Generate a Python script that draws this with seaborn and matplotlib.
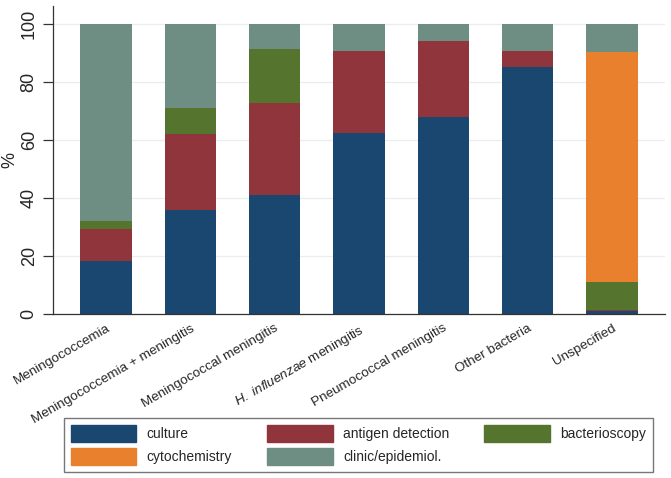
import pandas as pd
import matplotlib.pyplot as plt
import seaborn as sb
import numpy as np

# percentages by diagnosis group
groups = ["Meningococcemia", "Meningococcemia + meningitis", "Meningococcal meningitis",
          "H. influenzae meningitis", "Pneumococcal meningitis", "Other bacteria", "Unspecified"]
tick_labels = ["Meningococcemia", "Meningococcemia + meningitis", "Meningococcal meningitis",
               r"$\mathit{H.\ influenzae}$ meningitis", "Pneumococcal meningitis",
               "Other bacteria", "Unspecified"]
methods = ["culture", "antigen detection", "bacterioscopy", "cytochemistry", "clinic/epidemiol."]
culture = [18.3, 35.7, 41.1, 62.5, 68.0, 85.0, 1.1]
antigen = [10.9, 26.3, 31.5, 28.2, 26.0, 5.7, 0.3]
bacterioscopy = [2.9, 8.9, 18.8, 0.0, 0.0, 0.0, 9.8]
cytochemistry = [0.0, 0.0, 0.0, 0.0, 0.0, 0.0, 79.2]
clinic = [67.9, 29.1, 8.6, 9.3, 6.0, 9.3, 9.6]
colors = ["#1a476f", "#90353b", "#55752f", "#e8802e", "#6e8e84"]

sb.set_theme(style="white")
plt.rcParams["font.family"] = ["Liberation Sans", "DejaVu Sans"]
plt.rcParams["mathtext.fontset"] = "custom"
plt.rcParams["mathtext.it"] = "Liberation Sans:italic"
plt.rcParams["mathtext.rm"] = "Liberation Sans"

series = [culture, antigen, bacterioscopy, cytochemistry, clinic]
cum = np.cumsum(np.array(series), axis=0)

fig = plt.figure(figsize=(6.71, 4.78), dpi=100)
ax = fig.add_axes([0.079, 0.343, 0.912, 0.644])

# overlapping cumulative bars, tallest first
for i in reversed(range(len(methods))):
    df = pd.DataFrame({"group": groups, "top": cum[i]})
    sb.barplot(data=df, x="group", y="top", color=colors[i], width=0.61,
               saturation=1, linewidth=0, ax=ax, zorder=2)

ax.set_xlim(-0.63, 6.63)
ax.set_ylim(0, 106)
ax.set_yticks([0, 20, 40, 60, 80, 100])
ax.set_yticklabels(["0", "20", "40", "60", "80", "100"], rotation=90, va="center", fontsize=13)
ax.set_xticks(range(len(groups)))
ax.set_xticklabels(tick_labels, rotation=30, ha="right", rotation_mode="anchor", fontsize=9.7)
ax.tick_params(axis="x", length=0, pad=6)
ax.tick_params(axis="y", length=7, width=0.9, color="#333333", pad=4, left=True)
ax.set_xlabel("")
ax.set_ylabel("%", fontsize=13)
ax.yaxis.set_label_coords(-0.056, 0.5)
ax.yaxis.grid(True, color="#e8eef0", linewidth=0.9, zorder=0)
ax.set_axisbelow(True)
for s in ["top", "right"]:
    ax.spines[s].set_visible(False)
for s in ["left", "bottom"]:
    ax.spines[s].set_color("#333333")
    ax.spines[s].set_linewidth(0.9)

# legend filled row-wise: 3 columns, 2 rows
handles = [plt.Rectangle((0, 0), 1, 1, color=c) for c in colors]
order = [0, 3, 1, 4, 2]
leg = fig.legend([handles[k] for k in order], [methods[k] for k in order], ncol=3,
                 loc="lower left", bbox_to_anchor=(64 / 671, 6 / 478, 589 / 671, 58 / 478),
                 mode="expand", fontsize=10, handlelength=4.7, handleheight=1.55,
                 handletextpad=0.75, labelspacing=0.4, borderpad=0.5, fancybox=False,
                 frameon=True, borderaxespad=0)
leg.get_frame().set_edgecolor("#555555")
leg.get_frame().set_linewidth(1.0)

plt.savefig("out.png", dpi=100)
